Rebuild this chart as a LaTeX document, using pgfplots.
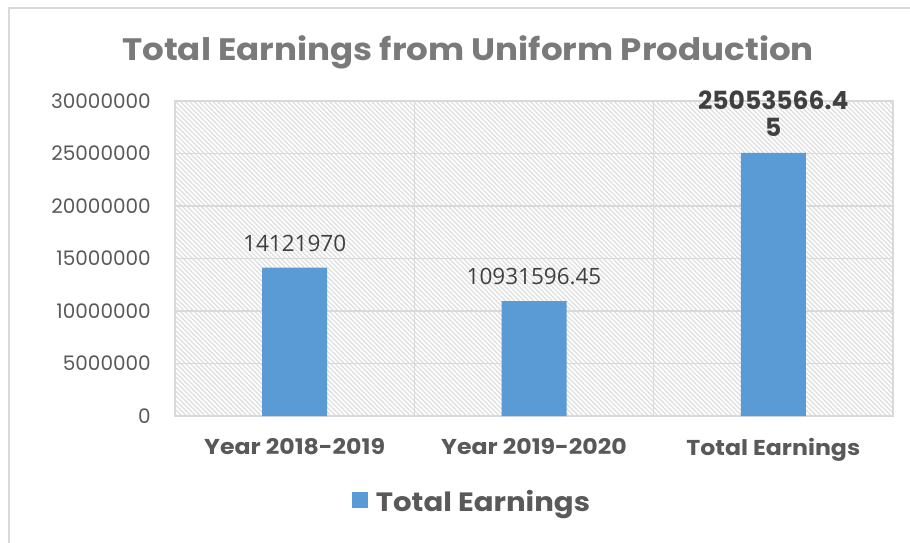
\documentclass[border=0pt]{standalone}
\usepackage{fontspec}
\setmainfont{Poppins}
\newfontfamily\widefont[FakeStretch=1.1]{Poppins}
\newfontfamily\labelfont{Open Sans}
\usepackage{pgfplots}
\pgfplotsset{compat=1.18}
\usetikzlibrary{patterns.meta}
\definecolor{barblue}{HTML}{5B9BD5}
\definecolor{gridgray}{HTML}{D9D9D9}
\definecolor{txtgray}{HTML}{595959}
\definecolor{lblgray}{HTML}{404040}
\definecolor{titlegray}{HTML}{7A7A7A}
\definecolor{hatch}{HTML}{DCDCDC}
\begin{document}
\begin{tikzpicture}[x=1pt,y=1pt]
\useasboundingbox (0,0) rectangle (910,-542);
\draw[gridgray, line width=1.5pt] (9,-545) -- (9,-8) -- (915,-8);
\node[font=\widefont\fontsize{31}{36}\selectfont\bfseries, text=titlegray, anchor=base] at (468,-60) {Total Earnings from Uniform Production};
\begin{axis}[
  at={(175pt,-416pt)}, anchor=south west,
  scale only axis, width=718pt, height=315pt,
  ymin=0, ymax=30000000,
  scaled y ticks=false,
  ytick={0,5000000,10000000,15000000,20000000,25000000,30000000},
  yticklabels={0,5000000,10000000,15000000,20000000,25000000,30000000},
  xmin=-0.5, xmax=2.5,
  xtick={0,1,2},
  xticklabels={Year 2018-2019, Year 2019-2020, Total Earnings},
  minor xtick={0.5,1.5},
  xminorgrids=true, ymajorgrids=true,
  major tick length=0pt, minor tick length=0pt,
  grid style={draw=gridgray, line width=1.5pt},
  minor grid style={draw=gridgray, line width=1.5pt},
  axis line style={draw=gridgray, line width=1.5pt},
  axis background/.style={pattern={Lines[angle=-45,distance=3.3pt,line width=1.2pt]}, pattern color=hatch},
  yticklabel style={font=\fontsize{20}{24}\selectfont, text=txtgray, anchor=east, inner sep=0pt, xshift=-24pt},
  xticklabel style={font=\widefont\fontsize{21.5}{25}\selectfont\bfseries, text=txtgray, anchor=north, inner sep=0pt, yshift=-22pt},
  legend style={at={(0.4136,-0.273)}, anchor=center, draw=none, fill=none,
    font=\widefont\fontsize{26.5}{30}\selectfont\bfseries, text=txtgray},
  clip=false,
]
\addplot[ybar, bar width=65pt, fill=barblue, draw=none,
  point meta=explicit symbolic,
  nodes near coords,
  nodes near coords style={font=\labelfont\fontsize{22.5}{27}\selectfont, text=lblgray, anchor=south, inner sep=0pt, yshift=16pt, align=center},
  legend image code/.code={\fill[barblue] (0pt,-6pt) rectangle (16pt,10pt); \path (22pt,0pt);}
] coordinates {
  (0,14121970) [14121970]
  (1,10931596.45) [10931596.45]
  (2,25053566.45) [{\fontsize{25}{31}\selectfont\rmfamily\bfseries 25053566.4\\\fontsize{25}{31}\selectfont\rmfamily\bfseries 5}]
};
\addlegendentry{Total Earnings}
\end{axis}
\end{tikzpicture}
\end{document}
